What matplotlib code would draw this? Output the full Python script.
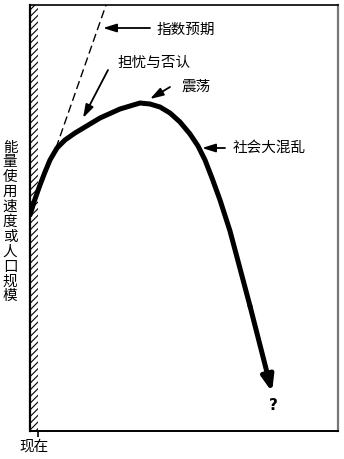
import matplotlib
matplotlib.use("Agg")
import matplotlib.pyplot as plt

plt.rcParams['font.family'] = ['Noto Sans CJK SC', 'DejaVu Sans']
plt.rcParams['hatch.linewidth'] = 0.8

# Data (axes units: x = time from "now", y = level)
curve_x = [0, 5, 10, 15, 20, 27, 35, 45, 55, 70, 90, 110, 120, 130, 140, 150,
           160, 168, 175, 182, 190, 200, 220, 242]
curve_y = [216, 232, 246, 259, 271, 283, 291, 298, 304, 313, 322, 328, 327,
           324, 318, 309, 297, 285, 271, 253, 231, 200, 125, 39]
expo_x = [26, 76]
expo_y = [283, 426]
y_label = "能量使用速度或人口规模"
x_label = "现在"
ann_texts = ["指数预期", "担忧与否认", "震荡", "社会大混乱"]
ann_text_xy = [(127, 401), (87, 368), (152, 344), (203, 283)]
ann_tail = [(120, 403), (78, 361), (140, 344), (195, 283)]
ann_head = [(73, 403), (53, 313), (120, 332), (172, 283)]

W, H = 344, 459
fig = plt.figure(figsize=(W / 100, H / 100), dpi=100)
L, R, T, B = 30, 338, 5, 431
ax = fig.add_axes([L / W, 1 - B / H, (R - L) / W, (B - T) / H])
ax.set_xlim(0, R - L)
ax.set_ylim(0, B - T)

# hatched band at "now"
ax.axvspan(0, 8, hatch='/////', fill=False, edgecolor='black', lw=0)

# exponential expectation (dashed)
ax.plot(expo_x, expo_y, color='black', lw=1.0, ls=(0, (6, 3)))

# main curve with arrow at end
ax.plot(curve_x[:-1], curve_y[:-1], color='black', lw=3.6,
        solid_joinstyle='round', solid_capstyle='round')
ax.annotate('', xy=(curve_x[-1], curve_y[-1]), xytext=(curve_x[-2], curve_y[-2]),
            arrowprops=dict(arrowstyle='-|>,head_length=0.9,head_width=0.35',
                            lw=3.6, color='black', shrinkA=0, shrinkB=0))
ax.text(curve_x[-1] + 1, curve_y[-1] - 13, '?', fontsize=11, fontweight='bold',
        ha='center', va='center', family='DejaVu Sans')

# annotations
for t, txy, tail, head in zip(ann_texts, ann_text_xy, ann_tail, ann_head):
    ax.annotate('', xy=head, xytext=tail,
                arrowprops=dict(arrowstyle='-|>,head_length=0.8,head_width=0.25',
                                lw=1.3, color='black', shrinkA=0, shrinkB=0))
    ax.text(txy[0], txy[1], t, fontsize=10.5, ha='left', va='center')

# frame
for s in ['left', 'top', 'bottom']:
    ax.spines[s].set_color('black')
ax.spines['left'].set_linewidth(1.6)
ax.spines['top'].set_linewidth(1.2)
ax.spines['bottom'].set_linewidth(1.4)
ax.spines['right'].set_color('#777777')
ax.spines['right'].set_linewidth(1.6)

ax.set_xticks([8])
ax.set_xticklabels([''])
ax.tick_params(axis='x', direction='out', length=4, width=1.2)
ax.set_yticks([])

fig.text(34 / W, 1 - 447 / H, x_label, fontsize=10.5, ha='center', va='center')
fig.text(10 / W, 1 - 222 / H, "\n".join(y_label), fontsize=10.5, ha='center',
         va='center', linespacing=1.08)

fig.savefig('out.png', dpi=100)
